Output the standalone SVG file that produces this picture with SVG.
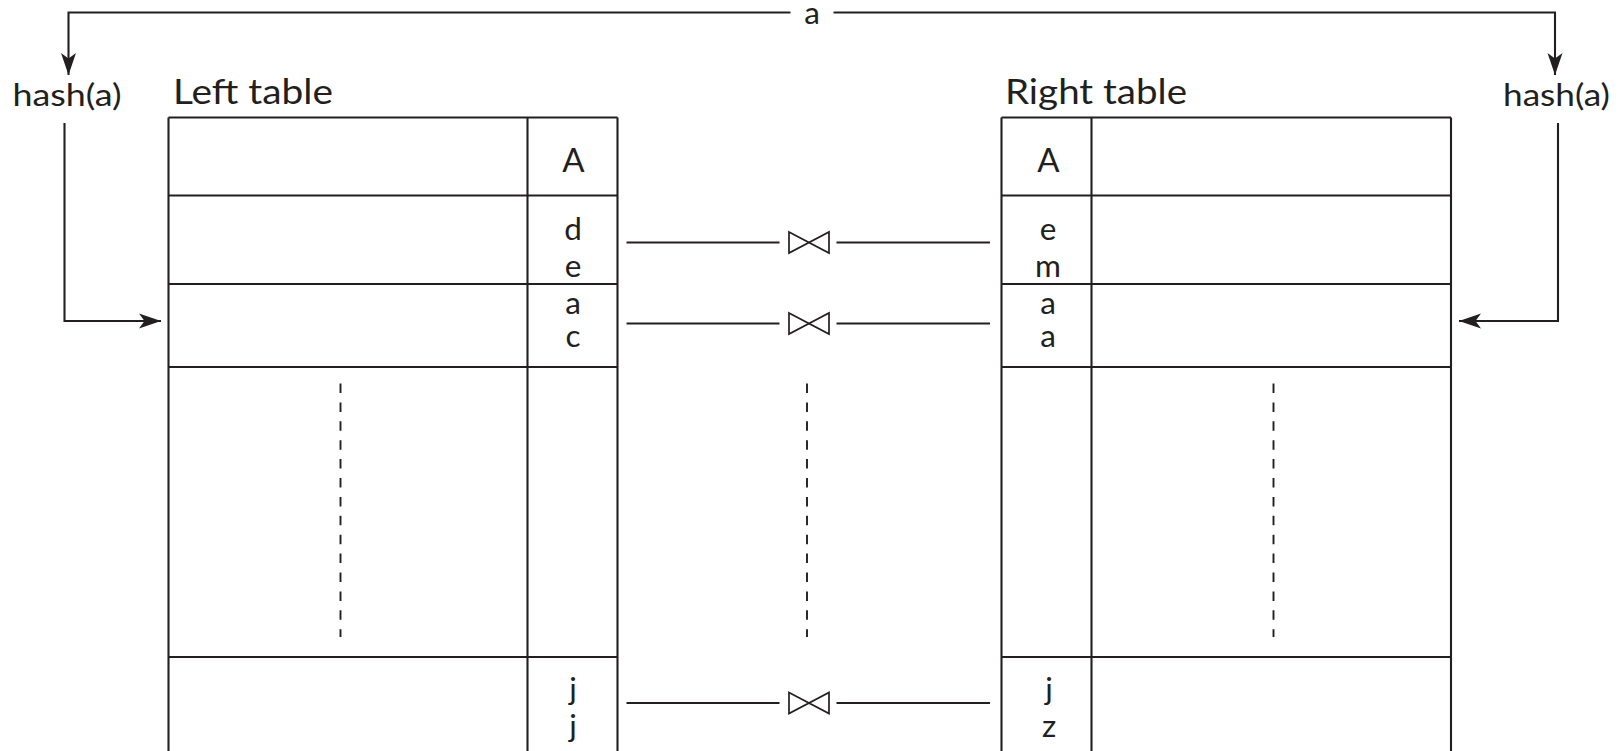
<svg xmlns="http://www.w3.org/2000/svg" width="1622" height="751" viewBox="0 0 1622 751">
<style>
.ln{stroke:#231f20;stroke-width:2.1;fill:none}
.th{stroke:#231f20;stroke-width:1.7;fill:none}
.dash{stroke:#231f20;stroke-width:1.9;fill:none;stroke-dasharray:9.5 9.4}
text{font-family:Lato,"Liberation Sans",sans-serif;fill:#231f20}
.title{font-size:34px}
.hash{font-size:31px}
.cell{font-size:31.5px;text-anchor:middle}
.hdr{font-size:33px;text-anchor:middle}
</style>
<defs>
<marker id="arr" markerUnits="userSpaceOnUse" markerWidth="26" markerHeight="20" viewBox="-24 -10 26 20" refX="0" refY="0" orient="auto">
<path d="M0,0 L-22,-7.5 L-16.5,0 L-22,7.5 Z" fill="#231f20"/>
</marker>
<path id="bow" d="M0,-10.5 L40,10.5 L40,-10.5 L0,10.5 Z" class="th"/>
</defs>
<rect width="1622" height="751" fill="#fff"/>

<g id="left-table">
<text class="title" x="173" y="103.5" textLength="160" lengthAdjust="spacingAndGlyphs">Left table</text>
<path class="ln" d="M168.5,117.5 V760 M527.5,117.5 V760 M617.5,117.5 V760 M168.5,117.5 H617.5 M168.5,195.5 H617.5 M168.5,284 H617.5 M168.5,367 H617.5 M168.5,657 H617.5"/>
<text class="hdr" x="573.5" y="172">A</text>
<text class="cell" x="573" y="240">d</text>
<text class="cell" x="573" y="277">e</text>
<text class="cell" x="573" y="314">a</text>
<text class="cell" x="573" y="347">c</text>
<text class="cell" x="573" y="700">j</text>
<text class="cell" x="573" y="737">j</text>
<path class="dash" d="M340.5,383.5 V637"/>
</g>

<g id="right-table">
<text class="title" x="1005" y="103.5" textLength="182" lengthAdjust="spacingAndGlyphs">Right table</text>
<path class="ln" d="M1001.5,117.5 V760 M1091.5,117.5 V760 M1451,117.5 V760 M1001.5,117.5 H1451 M1001.5,195.5 H1451 M1001.5,284 H1451 M1001.5,367 H1451 M1001.5,657 H1451"/>
<text class="hdr" x="1048.5" y="172">A</text>
<text class="cell" x="1048" y="240">e</text>
<text class="cell" x="1048" y="277">m</text>
<text class="cell" x="1048" y="314">a</text>
<text class="cell" x="1048" y="347">a</text>
<text class="cell" x="1049" y="700">j</text>
<text class="cell" x="1049" y="737">z</text>
<path class="dash" d="M1273.5,383.5 V637"/>
</g>

<g id="hash-left">
<text class="hash" x="12.5" y="106" textLength="109" lengthAdjust="spacingAndGlyphs">hash(a)</text>
</g>
<g id="hash-right">
<text class="hash" x="1503" y="106" textLength="107" lengthAdjust="spacingAndGlyphs">hash(a)</text>
</g>
<g id="label-a">
<text class="cell" x="812" y="24">a</text>
</g>

<g id="connectors">
<path class="ln" d="M790.5,12.5 H68.5 V75" marker-end="url(#arr)"/>
<path class="ln" d="M833.5,12.5 H1555 V75" marker-end="url(#arr)"/>
<path class="ln" d="M64.5,123 V321 H161" marker-end="url(#arr)"/>
<path class="ln" d="M1558,123 V321 H1459" marker-end="url(#arr)"/>

<path class="ln" d="M626.5,242.5 H779.5 M836.5,242.5 H990"/>
<use href="#bow" x="789" y="242.5"/>
<path class="ln" d="M626.5,323.5 H779.5 M836.5,323.5 H990"/>
<use href="#bow" x="789" y="323.5"/>
<path class="ln" d="M626.5,703 H779.5 M836.5,703 H990"/>
<use href="#bow" x="789" y="703"/>
<path class="dash" d="M807,383.5 V637"/>
</g>
</svg>
